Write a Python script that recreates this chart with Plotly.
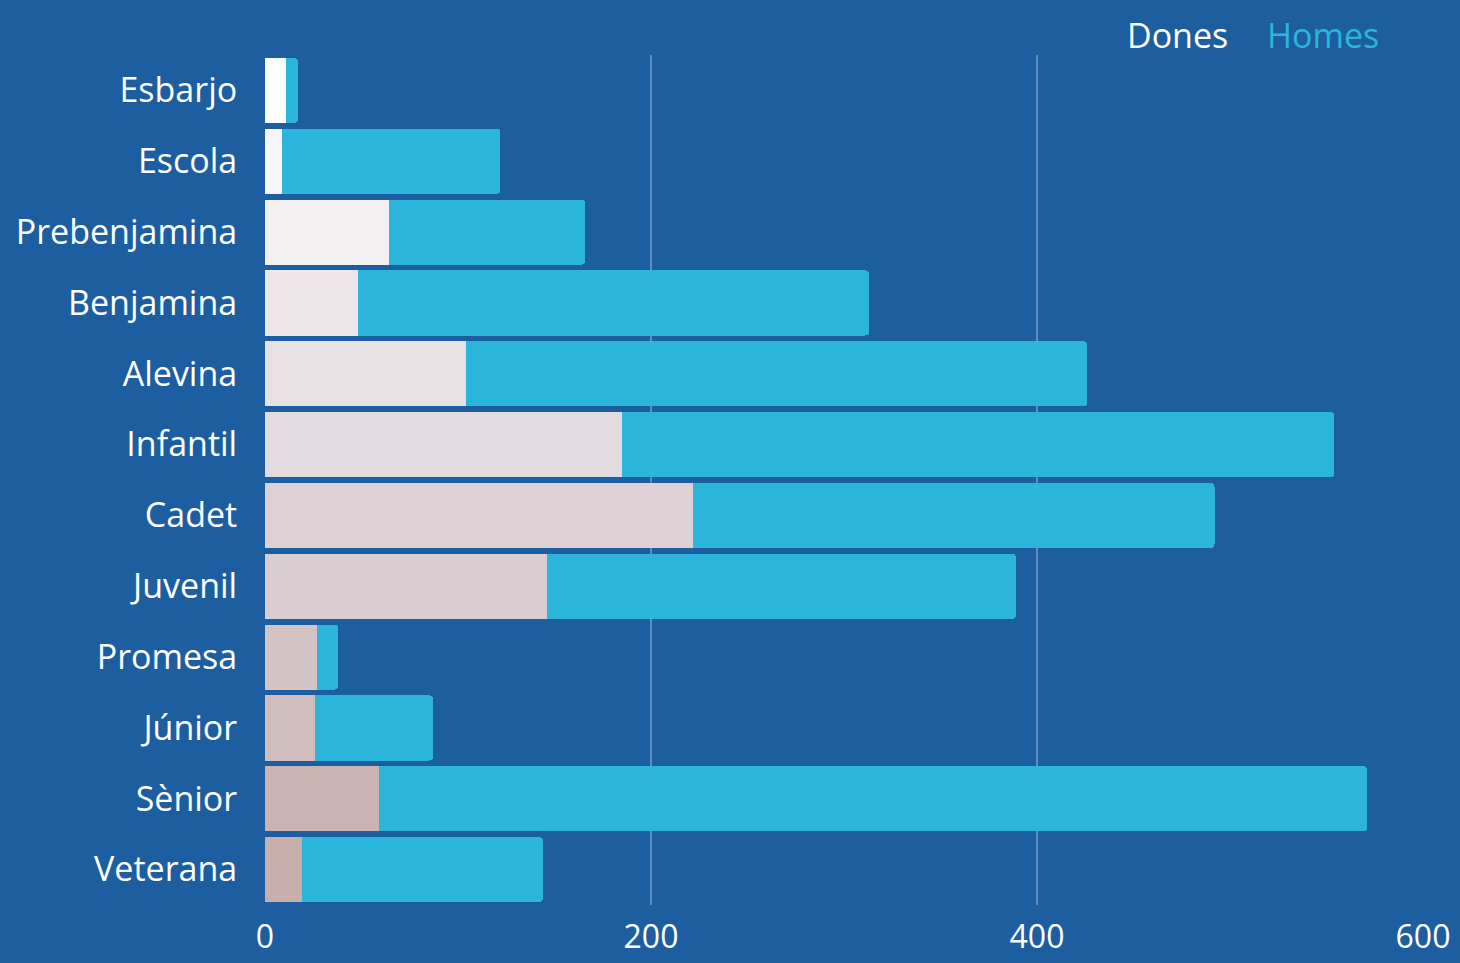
import plotly.graph_objects as go

categories = ["Esbarjo", "Escola", "Prebenjamina", "Benjamina", "Alevina", "Infantil",
              "Cadet", "Juvenil", "Promesa", "Júnior", "Sènior", "Veterana"]
dones = [11, 9, 64, 48, 104, 185, 222, 146, 27, 26, 59, 19]
homes = [6, 113, 102, 265, 322, 369, 270, 243, 11, 61, 512, 125]
dones_colors = ["#ffffff", "#f8f6f8", "#f2f0f0", "#ede7ea", "#e8e1e4", "#e2dbe0",
                "#ddd1d5", "#d9cdd1", "#d4c3c5", "#d1bcbe", "#cbb2b3", "#c8aeac"]
homes_color = "#2bb5da"
bg = "#1c5e9f"
x_ticks = [0, 200, 400, 600]

fig = go.Figure()
fig.add_trace(go.Bar(y=categories, x=dones, orientation="h", name="Dones",
                     marker=dict(color=dones_colors, line=dict(width=0)), showlegend=False))
fig.add_trace(go.Bar(y=categories, x=homes, orientation="h", name="Homes",
                     marker=dict(color=homes_color, line=dict(width=0)), showlegend=False))

L, R, T, B = 265, 37, 55, 58
fig.update_layout(
    width=1460, height=963,
    barmode="stack", bargap=0.08, barcornerradius=4,
    paper_bgcolor=bg, plot_bgcolor=bg,
    margin=dict(l=L, r=R, t=T, b=B),
    font=dict(family="Open Sans", color="white", size=34),
    xaxis=dict(range=[0, 600], tickvals=x_ticks, showgrid=True, automargin=False,
               gridcolor="rgba(255,255,255,0.3)", gridwidth=1.5, zeroline=False,
               tickfont=dict(size=32, color="white"),
               ticks="outside", ticklen=4, tickcolor="rgba(0,0,0,0)"),
    yaxis=dict(autorange="reversed", showgrid=False, zeroline=False, automargin=False,
               ticks="outside", ticklen=20, tickcolor="rgba(0,0,0,0)",
               tickfont=dict(size=34, color="white")),
)
plot_w = 1460 - L - R
plot_h = 963 - T - B
def px2paper(px, py):
    return (px - L) / plot_w, 1 - (py - T) / plot_h

for text, px, color in [("Dones", 1230, "white"), ("Homes", 1381, homes_color)]:
    ax_, ay_ = px2paper(px, 35)
    fig.add_annotation(text=text, x=ax_, y=ay_, xref="paper", yref="paper", showarrow=False,
                       font=dict(size=34, color=color), xanchor="right", yanchor="middle")

fig.write_html("out.html", config={"displayModeBar": False},
               post_script="document.body.style.margin='0';document.body.style.background='%s';" % bg)
